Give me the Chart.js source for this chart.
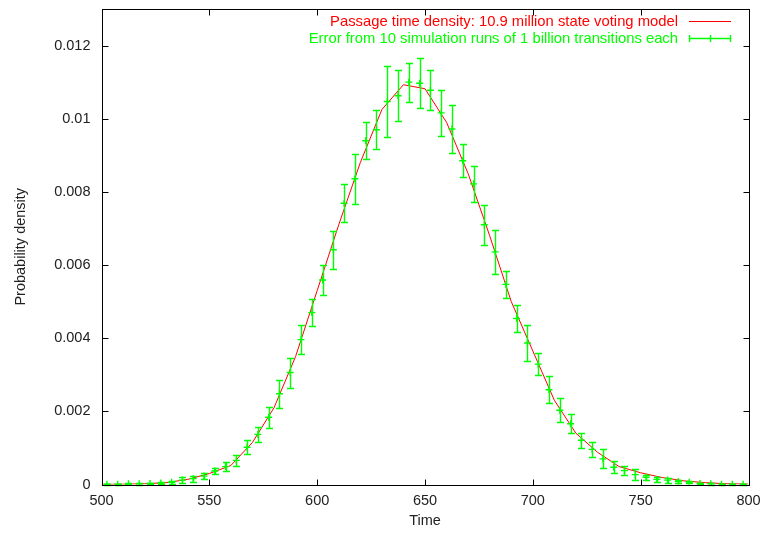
<!DOCTYPE html>
<html>
<head>
<meta charset="utf-8">
<script src="https://cdn.jsdelivr.net/npm/chart.js@4.4.1/dist/chart.umd.min.js"></script>
<style>
html,body{margin:0;padding:0;background:#fff;}
#wrap{width:766px;height:534px;}
</style>
</head>
<body>
<div id="wrap"><canvas id="c" width="766" height="534"></canvas></div>
<script>
// ---- data ----
const curveLabel = "Passage time density: 10.9 million state voting model";
const simLabel = "Error from 10 simulation runs of 1 billion transitions each";

const curveTimes = [500,510,520,530,540,550,560,570,580,590,600,610,620,630,640,650,660,670,680,690,700,710,720,730,740,750,760,770,780,790,800];
const curveDensity = [0.000003,0.000008,0.00002,0.00005,0.00014,0.0003,0.00052,0.00115,0.0021,0.0035,0.0053,0.0071,0.0088,0.01025,0.01093,0.01082,0.0099,0.0085,0.0068,0.0050,0.00365,0.0023,0.0014,0.00088,0.00049,0.00032,0.00019,0.0001,0.00005,0.00002,0.00001];

const simTimes = [502.5,507.5,512.5,517.5,522.5,527.5,532.5,537.5,542.5,547.5,552.5,557.5,562.5,567.5,572.5,577.5,582.5,587.5,592.5,597.5,602.5,607.5,612.5,617.5,622.5,627.5,632.5,637.5,642.5,647.5,652.5,657.5,662.5,667.5,672.5,677.5,682.5,687.5,692.5,697.5,702.5,707.5,712.5,717.5,722.5,727.5,732.5,737.5,742.5,747.5,752.5,757.5,762.5,767.5,772.5,777.5,782.5,787.5,792.5,797.5];
const simMean = [0.00001,0.00001,0.00002,0.00002,0.00003,0.00004,0.00006,0.00012,0.00016,0.00023,0.00037,0.00049,0.00066,0.00102,0.00137,0.00184,0.00248,0.00306,0.00396,0.0047,0.00559,0.00642,0.00769,0.00836,0.0094,0.0097,0.01047,0.01063,0.0110,0.01097,0.01078,0.01016,0.00972,0.00885,0.00822,0.0071,0.00636,0.00547,0.00454,0.00387,0.00329,0.00259,0.00203,0.00166,0.00121,0.00096,0.0007,0.00047,0.00038,0.00027,0.0002,0.00014,0.00012,0.00008,0.00006,0.00003,0.00002,0.00001,0.00001,0.00001];
const simError = [0.00001,0.00001,0.00001,0.00002,0.00002,0.00003,0.00004,0.00008,0.00008,0.00008,0.00009,0.00012,0.00015,0.00019,0.00021,0.00029,0.00038,0.00041,0.0004,0.00037,0.00041,0.00052,0.00052,0.00068,0.00051,0.00053,0.00097,0.0007,0.00053,0.00069,0.00055,0.00063,0.00066,0.00045,0.0005,0.00054,0.0006,0.00038,0.00037,0.0005,0.0003,0.00037,0.00033,0.00026,0.0002,0.0002,0.00026,0.00016,0.00012,0.00015,0.00007,0.00007,0.00007,0.00004,0.00003,0.00002,0.00002,0.00001,0.00001,0.00001];

const xTickValues = [500,550,600,650,700,750,800];
const yTickValues = [0,0.002,0.004,0.006,0.008,0.01,0.012];

// ---- styles ----
const RED = '#ff0000';
const GREEN = '#00ff00';
const FONT = '"Liberation Sans", Arial, sans-serif';

const curvePoints = curveTimes.map((t,i)=>({x:t,y:curveDensity[i]}));
const simPoints = simTimes.map((t,i)=>({x:t,y:simMean[i]}));

const gnuplotFrame = {
  id:'gnuplotFrame',
  afterDatasetsDraw(chart){
    const {ctx, chartArea:a, scales:{x,y}} = chart;
    // error bars
    const ds = chart.data.datasets[1];
    ctx.save();
    ctx.strokeStyle = GREEN;
    ctx.lineWidth = 1.4;
    ds.data.forEach((p,i)=>{
      const e = ds.errors[i];
      const px = Math.round(x.getPixelForValue(p.x))+0.5;
      const y1 = Math.round(y.getPixelForValue(p.y+e))+0.5;
      const y2 = Math.round(y.getPixelForValue(Math.max(0,p.y-e)))+0.5;
      ctx.beginPath();
      ctx.moveTo(px,y1); ctx.lineTo(px,y2);
      ctx.moveTo(px-3.5,y1); ctx.lineTo(px+3.5,y1);
      ctx.moveTo(px-3.5,y2); ctx.lineTo(px+3.5,y2);
      ctx.stroke();
    });
    ctx.restore();
    // border + inward ticks
    ctx.save();
    ctx.strokeStyle = '#000';
    ctx.lineWidth = 1;
    const L = Math.round(a.left)+0.5, R = Math.round(a.right)+0.5, T = Math.round(a.top)+0.5, B = Math.round(a.bottom)+0.5;
    ctx.beginPath();
    xTickValues.forEach(v=>{
      const px = Math.round(x.getPixelForValue(v))+0.5;
      ctx.moveTo(px,B); ctx.lineTo(px,B-6);
      ctx.moveTo(px,T); ctx.lineTo(px,T+6);
    });
    yTickValues.forEach(v=>{
      const py = Math.round(y.getPixelForValue(v))+0.5;
      ctx.moveTo(L,py); ctx.lineTo(L+6,py);
      ctx.moveTo(R,py); ctx.lineTo(R-6,py);
    });
    ctx.stroke();
    ctx.strokeRect(L,T,R-L,B-T);
    ctx.restore();
    // legend
    ctx.save();
    ctx.font = '14.8px ' + FONT;
    ctx.textAlign = 'right';
    ctx.textBaseline = 'middle';
    const tx = 678, sx1 = 689, sx2 = 731;
    const r1 = 21.5, r2 = 38.5;
    ctx.fillStyle = RED;
    ctx.fillText(chart.data.datasets[0].label, tx, r1);
    ctx.strokeStyle = RED;
    ctx.beginPath(); ctx.moveTo(sx1,r1); ctx.lineTo(sx2,r1); ctx.stroke();
    ctx.fillStyle = GREEN;
    ctx.fillText(chart.data.datasets[1].label, tx, r2);
    ctx.strokeStyle = GREEN;
    ctx.lineWidth = 1.4;
    ctx.beginPath();
    ctx.moveTo(sx1,r2); ctx.lineTo(sx2,r2);
    ctx.moveTo(sx1+0.5,r2-3.5); ctx.lineTo(sx1+0.5,r2+3.5);
    ctx.moveTo(sx2-0.5,r2-3.5); ctx.lineTo(sx2-0.5,r2+3.5);
    const mx = Math.round((sx1+sx2)/2)+0.5;
    ctx.moveTo(mx,r2-3.5); ctx.lineTo(mx,r2+3.5);
    ctx.stroke();
    ctx.restore();
  }
};

new Chart(document.getElementById('c'), {
  type:'line',
  data:{
    datasets:[
      {label:curveLabel, data:curvePoints, borderColor:RED, borderWidth:1, pointRadius:0, tension:0, fill:false, order:2},
      {label:simLabel, data:simPoints, errors:simError, showLine:false, borderColor:GREEN, backgroundColor:GREEN, pointStyle:'cross', pointRadius:3.5, pointBorderWidth:1.4, order:1}
    ]
  },
  options:{
    responsive:false,
    animation:false,
    events:[],
    layout:{padding:{left:0,right:17.5,top:9,bottom:0}},
    plugins:{legend:{display:false}, tooltip:{enabled:false}},
    scales:{
      x:{
        type:'linear', min:500, max:800,
        afterBuildTicks:s=>{ s.ticks = xTickValues.map(v=>({value:v})); },
        afterFit:s=>{ s.height = 49.5; s.paddingLeft = 0; s.paddingRight = 0; },
        grid:{display:false, drawTicks:false},
        border:{display:false},
        ticks:{color:'#222', font:{family:FONT,size:14.5}, padding:8, maxRotation:0, callback:v=>String(v)},
        title:{display:true, text:'Time', color:'#222', font:{family:FONT,size:14.5}, padding:{top:0,bottom:4}}
      },
      y:{
        type:'linear', min:0, max:0.013,
        afterBuildTicks:s=>{ s.ticks = yTickValues.map(v=>({value:v})); },
        afterFit:s=>{ s.width = 101.5; s.paddingTop = 0; s.paddingBottom = 0; },
        grid:{display:false, drawTicks:false},
        border:{display:false},
        ticks:{color:'#222', font:{family:FONT,size:14.5}, padding:11, callback:v=>String(+(+v).toFixed(4))},
        title:{display:true, text:'Probability density', color:'#222', font:{family:FONT,size:14.5}, padding:{top:12,bottom:0}}
      }
    }
  },
  plugins:[gnuplotFrame]
});
</script>
</body>
</html>
